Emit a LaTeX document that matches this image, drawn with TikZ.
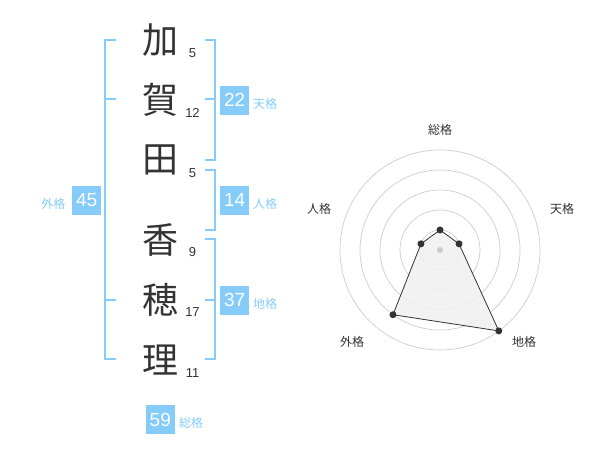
\documentclass[tikz,border=0pt]{standalone}
\usepackage{fontspec}
\setmainfont{Liberation Sans}
\newfontfamily\jpfont{Noto Sans CJK JP}
\newfontfamily\numfont{Liberation Sans}
\definecolor{kblue}{RGB}{133,204,250}
\definecolor{kgray}{RGB}{51,51,51}
\definecolor{ringgray}{RGB}{204,204,204}
\definecolor{fillgray}{RGB}{240,240,240}
\begin{document}
\begin{tikzpicture}[x=1pt,y=-1pt,
  kanji/.style={inner sep=0pt,text=kgray,font=\jpfont\fontsize{36}{36}\selectfont},
  strokes/.style={inner sep=0pt,text=kgray,font=\numfont\fontsize{13}{13}\selectfont},
  numbox/.style={fill=kblue,text=white,minimum size=29pt,inner sep=0pt,font=\numfont\fontsize{19}{19}\selectfont},
  kaku/.style={inner sep=0pt,text=kblue,font=\jpfont\fontsize{12}{12}\selectfont},
  radlabel/.style={inner sep=0pt,text=kgray,font=\jpfont\fontsize{12}{12}\selectfont},
  bracket/.style={draw=kblue,line width=2pt},
  ring/.style={draw=ringgray,line width=0.7pt},
  dot/.style={fill=kgray,draw=none}]
\useasboundingbox (0,0) rectangle (600,470);
% kanji
\node[kanji] (k1) at (160,40) {加};
\node[kanji] (k2) at (160,100) {賀};
\node[kanji] (k3) at (160,160) {田};
\node[kanji] (k4) at (160,240) {香};
\node[kanji] (k5) at (160,300) {穂};
\node[kanji] (k6) at (160,360) {理};
% stroke counts
\node[strokes] (s1) at (192.5,53) {5};
\node[strokes] (s2) at (192.5,113) {12};
\node[strokes] (s3) at (192.5,173) {5};
\node[strokes] (s4) at (192.5,252.5) {9};
\node[strokes] (s5) at (192.5,312) {17};
\node[strokes] (s6) at (192.5,373) {11};
% left bracket (gaikaku)
\draw[bracket] (116,40) -- (105,40) -- (105,359) -- (116,359);
\draw[bracket] (105,99.5) -- (116,99.5);
\draw[bracket] (105,300) -- (116,300);
% right brackets
\draw[bracket] (205,40) -- (214.5,40) -- (214.5,160) -- (205,160);
\draw[bracket] (205,99.5) -- (214.5,99.5);
\draw[bracket] (205,170) -- (214.5,170) -- (214.5,230) -- (205,230);
\draw[bracket] (205,239.5) -- (214.5,239.5) -- (214.5,359) -- (205,359);
\draw[bracket] (205,300) -- (214.5,300);
% boxes
\node[numbox] (b22) at (234.7,100.3) {22};
\node[kaku,anchor=west] (l22) at (253,104) {天格};
\node[numbox] (b14) at (234.7,200.3) {14};
\node[kaku,anchor=west] (l14) at (253,204) {人格};
\node[numbox] (b37) at (234.7,300.3) {37};
\node[kaku,anchor=west] (l37) at (253,304) {地格};
\node[numbox] (b45) at (86.7,200.3) {45};
\node[kaku,anchor=east] (l45) at (65.5,204) {外格};
\node[numbox] (b59) at (160.3,419.7) {59};
\node[kaku,anchor=west] (l59) at (179,423) {総格};
% radar chart
\begin{scope}[shift={(440,250)},yscale=-1]
  \foreach \r in {20,40,60,80,100} \draw[ring] (0,0) circle[radius=\r];
  \coordinate (pso) at (90:20);
  \coordinate (pten) at (18:20);
  \coordinate (pchi) at (-54:100);
  \coordinate (pgai) at (234:80);
  \coordinate (pjin) at (162:20);
  \fill[fillgray,opacity=0.85] (pso) -- (pten) -- (pchi) -- (pgai) -- (pjin) -- cycle;
  \draw[kgray,line width=0.8pt,line join=round] (pso) -- (pten) -- (pchi) -- (pgai) -- (pjin) -- cycle;
  \fill[ringgray] (0,0) circle[radius=3pt];
  \foreach \p in {pso,pten,pchi,pgai,pjin} \fill[dot] (\p) circle[radius=3.5pt];
\end{scope}
\node[radlabel] (rso) at (440,130) {総格};
\node[radlabel] (rten) at (562,208.5) {天格};
\node[radlabel] (rjin) at (319,208.5) {人格};
\node[radlabel] (rgai) at (352,342) {外格};
\node[radlabel] (rchi) at (524,342) {地格};
\end{tikzpicture}
\end{document}
